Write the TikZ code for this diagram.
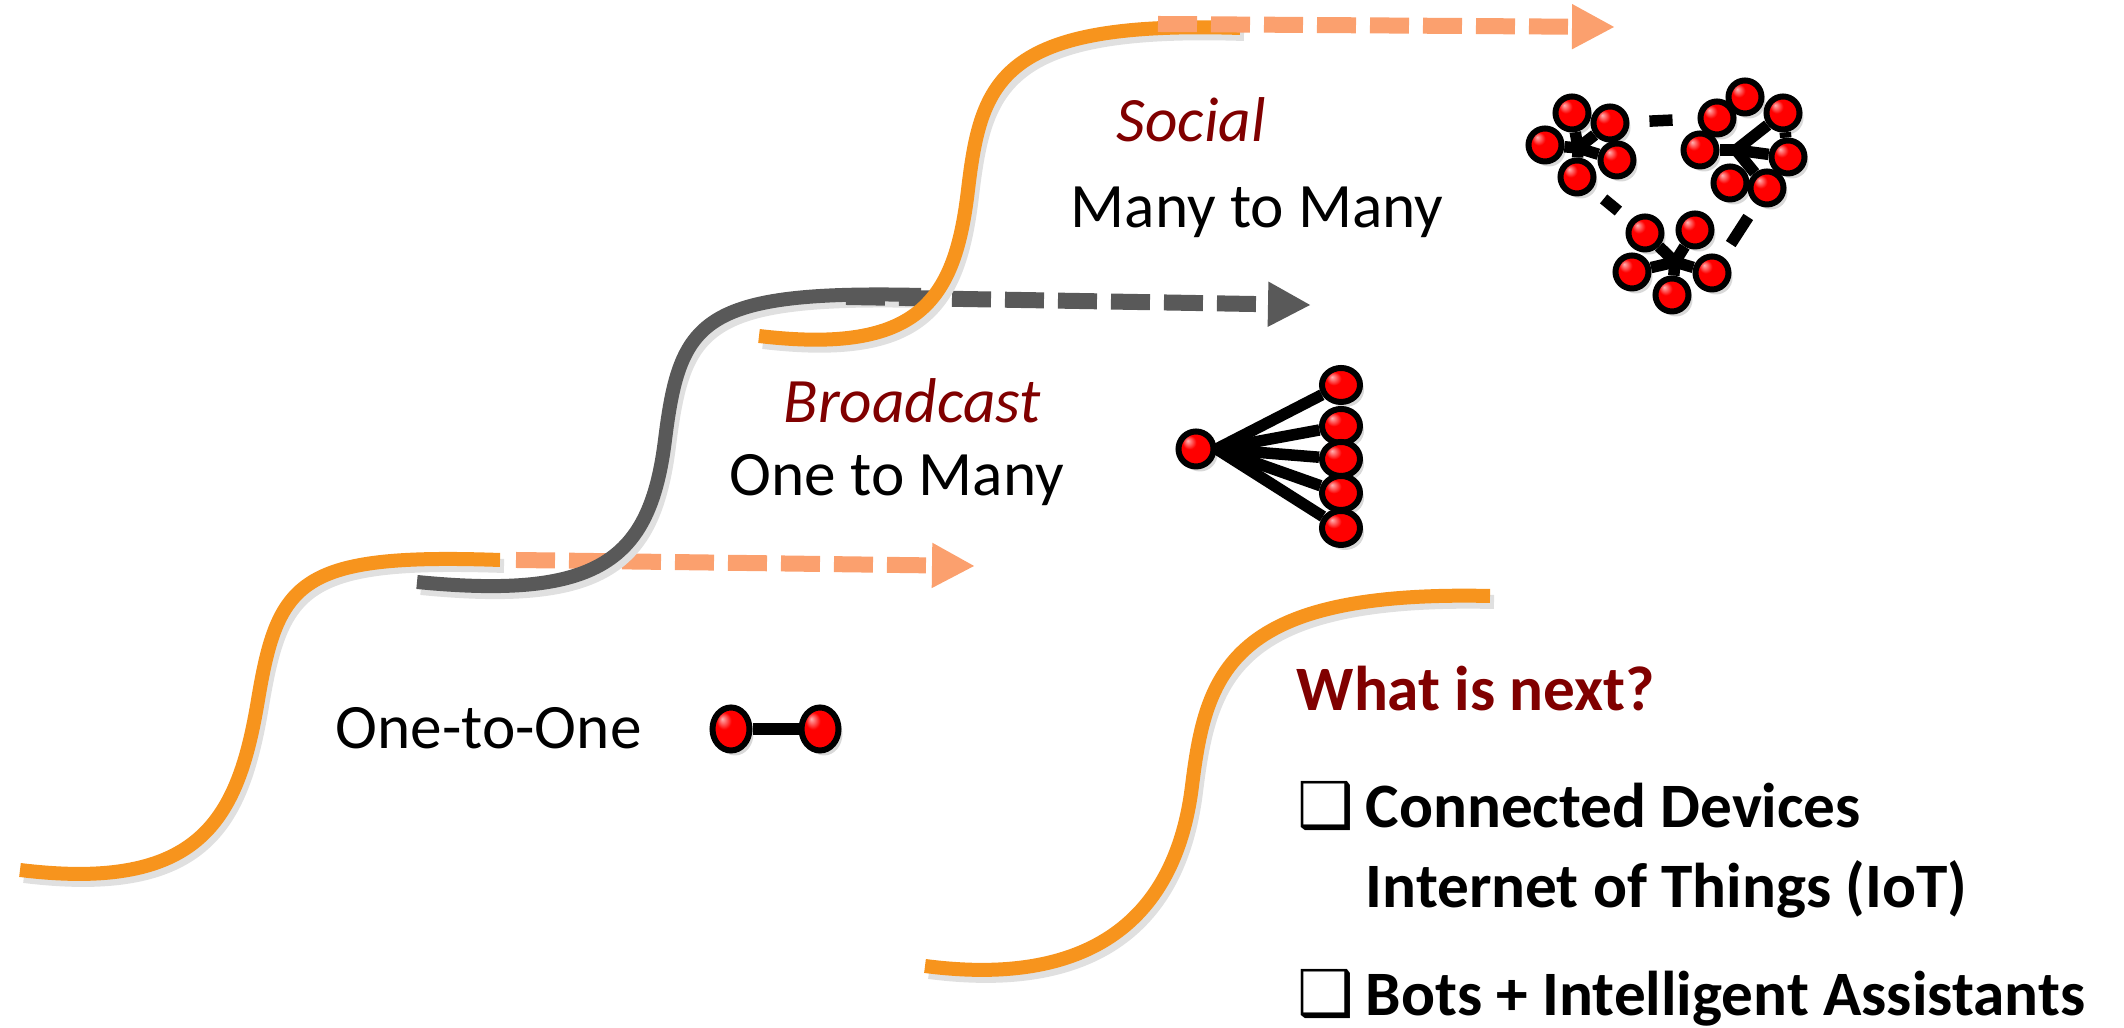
\documentclass[tikz,border=0pt]{standalone}
\usepackage{fontspec}
\setmainfont{Carlito}
\newfontfamily\boxfont{DejaVu Sans}
\usetikzlibrary{arrows.meta, positioning, calc, shapes.geometric, shadows}

\definecolor{curveorange}{HTML}{F7941D}
\definecolor{dashorange}{HTML}{FBA06E}
\definecolor{curvegray}{HTML}{595959}
\definecolor{labelred}{HTML}{800000}

\pgfdeclareradialshading{redball}{\pgfpoint{-12bp}{12bp}}{%
  color(0bp)=(red!30!white); color(10bp)=(red); color(32bp)=(red); color(50bp)=(red!75!black)}

\begin{document}
\begin{tikzpicture}[
    x=0.1mm, y=-0.1mm,
    trend/.style={line width=1.4mm,
      preaction={draw=black!12, line width=1.4mm, transform canvas={shift={(0.4mm,-0.6mm)}}}},
    flowdash/.style={line width=1.6mm, dash pattern=on 3.9mm off 1.4mm,
      -{Triangle[length=4.3mm, width=4.2mm]}},
    ball/.style={circle, draw=black, line width=0.6mm, shading=redball,
      minimum size=3.3mm, inner sep=0pt,
      drop shadow={opacity=0.3, shadow xshift=0.4mm, shadow yshift=-0.5mm}},
    oval/.style={ball, ellipse, minimum width=#1, minimum height=3.4mm},
    link/.style={line width=1.15mm, black},
    modetext/.style={font=\fontsize{18}{21}\selectfont, anchor=base west, inner sep=0pt},
    kindtext/.style={modetext, font=\fontsize{18}{21}\selectfont\itshape, text=labelred},
    headtext/.style={modetext, font=\fontsize{18}{21}\selectfont\bfseries, text=labelred},
    itemtext/.style={modetext, font=\fontsize{18}{21}\selectfont\bfseries}
]
    \useasboundingbox (0,0) rectangle (2124,1028);

    % s-curves and the dashed trends
    \coordinate (p2p_end) at (500,560);
    \coordinate (p2p_from) at (516,560);
    \coordinate (p2p_tip) at (975,566);
    \coordinate (bc_from) at (846,297);
    \coordinate (bc_tip) at (1311,305);
    \coordinate (soc_from) at (1158,24);
    \coordinate (soc_tip) at (1615,27);

    \draw[trend, curveorange] (20,870) .. controls (200,892) and (238,820) .. (258,700)
      .. controls (278,580) and (300,553) .. (p2p_end);
    \draw[flowdash, dashorange] (p2p_from) -- (p2p_tip);

    \draw[trend, curvegray] (417,582) .. controls (600,600) and (650,560) .. (665,440)
      .. controls (680,320) and (700,290) .. (921,295);
    \draw[flowdash, curvegray] (bc_from) -- (bc_tip);

    \draw[trend, curveorange] (759,336) .. controls (920,355) and (955,300) .. (968,190)
      .. controls (981,80) and (1000,20) .. (1240,28);
    \draw[flowdash, dashorange] (soc_from) -- (soc_tip);

    \draw[trend, curveorange] (925,966) .. controls (1110,990) and (1178,900) .. (1192,786)
      .. controls (1206,672) and (1230,590) .. (1490,596);

    % labels
    \node[kindtext] (social) at (1116,142) {Social};
    \node[modetext] (many_many) at (1070,228) {Many to Many};
    \node[kindtext] (broadcast) at (783,423) {Broadcast};
    \node[modetext] (one_many) at (729,496) {One to Many};
    \node[modetext] (one_one) at (335,749) {One-to-One};

    \node[headtext] (next) at (1296,711) {What is next?};
    \node[itemtext] (iot1) at (1297,828) {\makebox[6.8mm][l]{\boxfont ❑}Connected Devices};
    \node[itemtext] (iot2) at (1365,908) {Internet of Things (IoT)};
    \node[itemtext] (bots) at (1297,1016) {\makebox[6.8mm][l]{\boxfont ❑}Bots + Intelligent Assistants};

    % one-to-one
    \node[oval=3.7mm, minimum height=4.3mm] (o1) at (731,729) {};
    \node[oval=3.7mm, minimum height=4.3mm] (o2) at (820,729) {};
    \draw[link] (o1) -- (o2);

    % broadcast
    \node[ball, minimum size=3.5mm] (bc) at (1196,449) {};
    \foreach \i/\y in {1/385, 2/426, 3/459, 4/493, 5/528} {
      \node[oval=3.8mm] (bc\i) at (1341,\y) {};
      \draw[link] (bc.east) -- (bc\i);
    }

    % social: three groups
    \node[ball] (a1) at (1572,113) {};
    \node[ball] (a2) at (1610,123) {};
    \node[ball] (a3) at (1545,145) {};
    \node[ball] (a4) at (1617,160) {};
    \node[ball] (a5) at (1577,177) {};
    \coordinate (a_hub) at (1578,148);
    \foreach \n in {a1,a2,a3,a4,a5}
      \draw[link] (a_hub) -- (\n);

    \node[ball] (b1) at (1745,97) {};
    \node[ball] (b2) at (1717,118) {};
    \node[ball] (b3) at (1783,113) {};
    \node[ball] (b4) at (1700,150) {};
    \node[ball] (b5) at (1788,157) {};
    \node[ball] (b6) at (1730,183) {};
    \node[ball] (b7) at (1767,188) {};
    \coordinate (b_hub) at (1736,150);
    \foreach \n in {b3,b4,b5,b7}
      \draw[link] (b_hub) -- (\n);
    \draw[link] (b3) -- (b5);

    \node[ball] (c1) at (1645,233) {};
    \node[ball] (c2) at (1695,230) {};
    \node[ball] (c3) at (1632,272) {};
    \node[ball] (c4) at (1712,273) {};
    \node[ball] (c5) at (1672,295) {};
    \coordinate (c_hub) at (1675,262);
    \foreach \n in {c1,c2,c3,c4,c5}
      \draw[link] (c_hub) -- (\n);

    \draw[link, shorten <=2mm, shorten >=2.5mm] (a2) -- (b2);
    \draw[link, shorten <=1.5mm, shorten >=1.5mm] (a5) -- (c1);
    \draw[link, shorten <=1.5mm, shorten >=1.5mm] (b7) -- (c4);
\end{tikzpicture}
\end{document}
